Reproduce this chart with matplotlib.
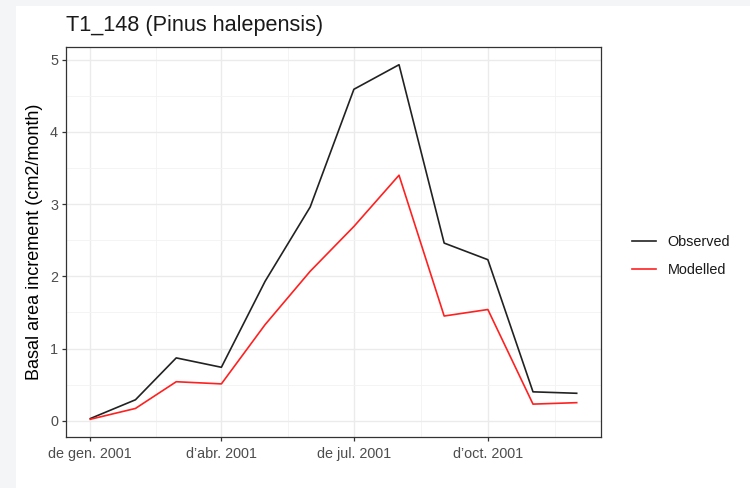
import datetime as dt

import matplotlib

matplotlib.use("Agg")

import matplotlib.dates as mdates
import matplotlib.pyplot as plt
from matplotlib.patches import Rectangle

# monthly basal area increment, 2001 (cm2/month)
months = [dt.date(2001, m, 1) for m in range(1, 13)]
observed = [0.03, 0.29, 0.87, 0.74, 1.93, 2.96, 4.59, 4.93, 2.46, 2.23, 0.40, 0.38]
modelled = [0.02, 0.17, 0.54, 0.51, 1.33, 2.07, 2.69, 3.40, 1.45, 1.54, 0.23, 0.25]

major_dates = [dt.date(2001, 1, 1), dt.date(2001, 4, 1), dt.date(2001, 7, 1), dt.date(2001, 10, 1)]
major_labels = ["de gen. 2001", "d\u2019abr. 2001", "de jul. 2001", "d\u2019oct. 2001"]
y_major = [0, 1, 2, 3, 4, 5]

title = "T1_148 (Pinus halepensis)"
y_label = "Basal area increment (cm2/month)"

plt.rcParams["font.family"] = ["Liberation Sans", "DejaVu Sans"]

W, H = 750, 488
fig = plt.figure(figsize=(W / 100, H / 100), dpi=100, facecolor="#f4f5f6")
fig.add_artist(Rectangle((16 / W, 0), 1, (H - 6) / H, transform=fig.transFigure,
                         facecolor="white", edgecolor="none", zorder=-10))

ax = fig.add_axes([66 / W, 51 / H, 535 / W, 390 / H])
ax.set_zorder(1)

x_num = mdates.date2num(months)
ax.plot(x_num, observed, color="#222222", lw=1.2, label="Observed")
ax.plot(x_num, modelled, color="#ff2020", lw=1.2, label="Modelled")

# ggplot-like 5% expansion
span = x_num[-1] - x_num[0]
ax.set_xlim(x_num[0] - 0.05 * span, x_num[-1] + 0.05 * span)
lo = min(min(observed), min(modelled))
hi = max(max(observed), max(modelled))
ax.set_ylim(lo - 0.05 * (hi - lo), hi + 0.05 * (hi - lo))

major_num = mdates.date2num(major_dates)
minor_num = [(a + b) / 2 for a, b in zip(major_num[:-1], major_num[1:])]
minor_num.append(major_num[-1] + (mdates.date2num(dt.date(2002, 1, 1)) - major_num[-1]) / 2)
ax.set_xticks(major_num)
ax.set_xticklabels(major_labels)
ax.set_xticks(minor_num, minor=True)
ax.set_yticks(y_major)
ax.set_yticks([v + 0.5 for v in y_major[:-1]], minor=True)

ax.grid(which="major", color="#ebebeb", lw=1.0)
ax.grid(which="minor", color="#f3f3f3", lw=0.6)
ax.set_axisbelow(True)
for s in ax.spines.values():
    s.set_color("#333333")
    s.set_linewidth(0.9)

ax.tick_params(which="major", length=3.2, width=0.9, color="#333333",
               labelcolor="#4d4d4d", labelsize=10.4)
ax.tick_params(axis="x", which="major", pad=4)
ax.tick_params(axis="y", which="major", pad=2.5)
ax.tick_params(which="minor", length=0)

ax.set_ylabel(y_label, fontsize=13, color="black", labelpad=5)
ax.set_title(title, loc="left", fontsize=15.6, color="#1a1a1a", pad=11.5, x=0.0)

leg = fig.legend(loc="center left", bbox_to_anchor=(619 / W, (H - 256) / H), frameon=False,
                 fontsize=10.4, handlelength=1.65, labelspacing=1.0, handletextpad=0.83)
for t in leg.get_texts():
    t.set_color("#1a1a1a")

fig.savefig("out.png", dpi=100, facecolor=fig.get_facecolor())
